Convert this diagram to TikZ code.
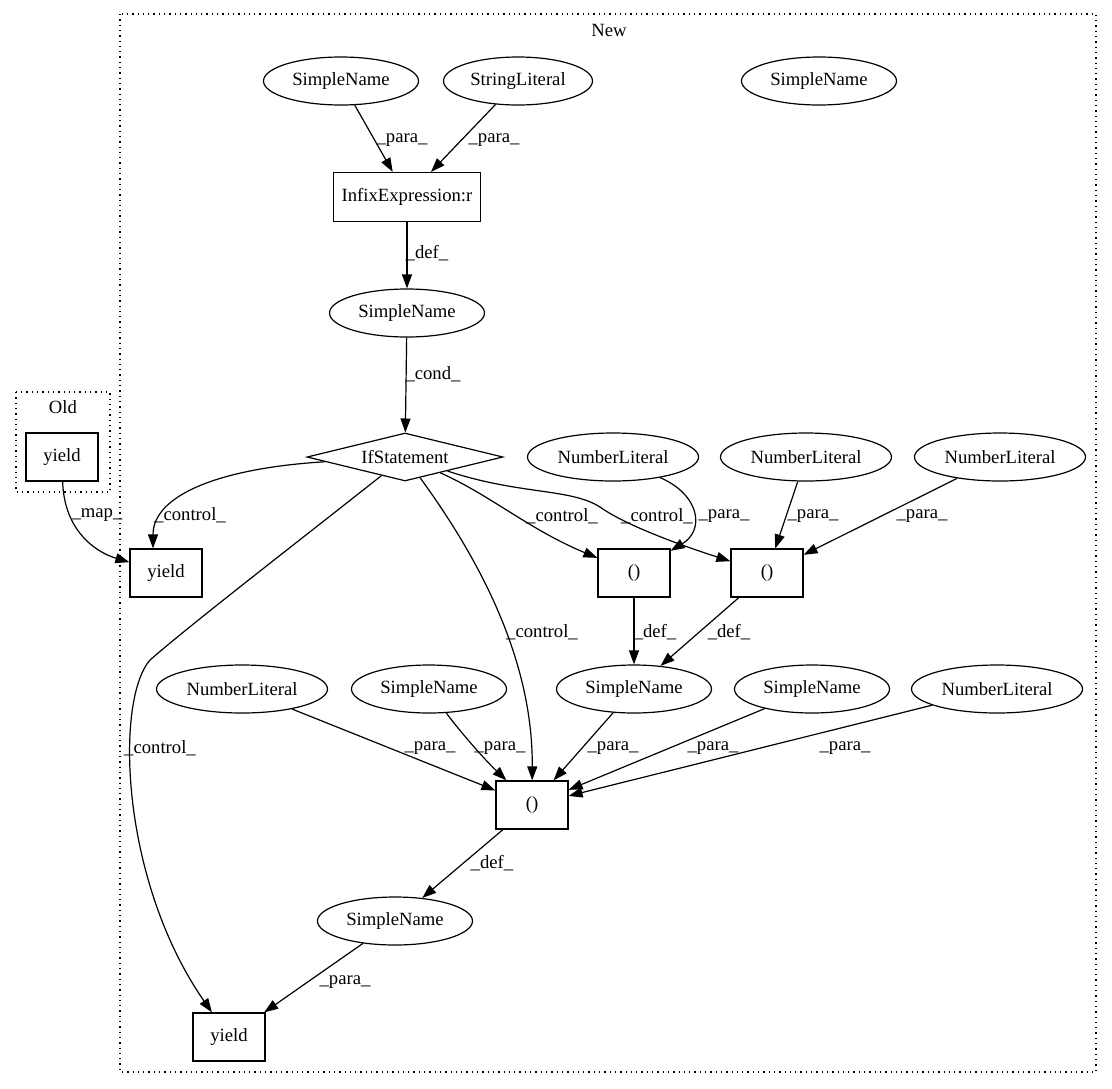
\documentclass[tikz,border=0pt]{standalone}
\usepackage{fontspec}
\setmainfont{Liberation Serif}
\usetikzlibrary{shapes.geometric,arrows.meta}
\begin{document}
\begin{tikzpicture}[x=1pt,y=-1pt,
  every node/.style={font=\fontsize{18.67}{22}\selectfont},
  ell/.style={draw, ellipse, line width=1.2pt, inner sep=0pt, minimum height=48pt},
  sbox/.style={draw, rectangle, line width=1.2pt, inner sep=0pt, minimum width=72pt, minimum height=48pt},
  dia/.style={draw, diamond, aspect=4, line width=1.2pt, inner sep=0pt, minimum width=196pt, minimum height=48pt},
  edge/.style={line width=1.2pt, -{Triangle[length=14pt,width=10pt]}},
  lab/.style={inner sep=0pt},
  cluster/.style={line width=1.3pt, dash pattern=on 1.3pt off 4pt}
]
\useasboundingbox (0,0) rectangle (1112,1088);
% clusters
\draw[cluster] (120,14) rectangle (1096,1072);
\node[lab] (newlab) at (609,30) {New};
\draw[cluster] (16,392) rectangle (110,492);
\node[lab] (oldlab) at (63,407) {Old};

% nodes
\node[ell, minimum width=155pt] (sn1) at (341,81) {SimpleName};
\node[ell, minimum width=149pt] (sl) at (518,81) {StringLiteral};
\node[ell, minimum width=155pt] (snr) at (819,81) {SimpleName};
\node[sbox, minimum width=147pt, minimum height=49pt] (infix) at (407,197) {InfixExpression:r};
\node[ell, minimum width=155pt] (sncond) at (407,313) {SimpleName};
\node[dia] (ifs) at (405,457) {IfStatement};
\node[sbox] (oldyield) at (62,457) {yield};
\node[sbox] (yield1) at (166,573) {yield};
\node[ell, minimum width=171pt] (nl1) at (613,457) {NumberLiteral};
\node[ell, minimum width=171pt] (nl2) at (806,457) {NumberLiteral};
\node[ell, minimum width=171pt] (nl3) at (1000,457) {NumberLiteral};
\node[sbox] (box1) at (634,573) {()};
\node[sbox] (box2) at (767,573) {()};
\node[ell, minimum width=171pt] (nlbl) at (242,689) {NumberLiteral};
\node[ell, minimum width=155pt] (snbl) at (429,689) {SimpleName};
\node[ell, minimum width=155pt] (snmid) at (634,689) {SimpleName};
\node[ell, minimum width=155pt] (snright) at (812,689) {SimpleName};
\node[ell, minimum width=171pt] (nlbr) at (997,689) {NumberLiteral};
\node[sbox] (boxb) at (532,805) {()};
\node[ell, minimum width=155pt] (snb) at (395,921) {SimpleName};
\node[sbox] (yieldb) at (229,1037) {yield};

% edges
\draw[edge] (sn1) -- (infix);
\draw[edge] (sl) -- (infix);
\draw[edge] (infix) -- (sncond);
\draw[edge] (sncond) -- (ifs);
\draw[edge] (ifs) .. controls (220,468) and (153,495) .. ([xshift=-13pt]yield1.north);
\draw[edge] (oldyield) .. controls (64,530) and (95,552) .. (yield1);
\draw[edge] (ifs) .. controls (490,495) and (530,530) .. (box1);
\draw[edge] (ifs) .. controls (520,495) and (570,488) .. (600,507) .. controls (625,525) and (680,545) .. (box2);
\draw[edge] (nl1) .. controls (700,495) and (705,530) .. (box1);
\draw[edge] (nl2) -- (box2);
\draw[edge] (nl3) -- (box2);
\draw[edge] (box1) -- (snmid);
\draw[edge] (box2) -- (snmid);
\draw[edge] (ifs) .. controls (480,560) and (533,660) .. (boxb);
\draw[edge] (ifs) .. controls (300,540) and (190,625) .. (150,660) .. controls (115,700) and (120,880) .. (yieldb);
\draw[edge] (nlbl) -- (boxb);
\draw[edge] (snbl) .. controls (455,725) and (480,755) .. (boxb);
\draw[edge] (snmid) -- (boxb);
\draw[edge] (snright) -- (boxb);
\draw[edge] (nlbr) -- (boxb);
\draw[edge] (boxb) -- (snb);
\draw[edge] (snb) -- (yieldb);

% labels
\node[lab] (l1) at (402,140) {\_para\_};
\node[lab] (l2) at (494,140) {\_para\_};
\node[lab] (l3) at (427,253) {\_def\_};
\node[lab] (l4) at (433,374) {\_cond\_};
\node[lab] (l5) at (190,515) {\_control\_};
\node[lab] (l6) at (97,515) {\_map\_};
\node[lab] (l7) at (562,516) {\_control\_};
\node[lab] (l8) at (657,516) {\_control\_};
\node[lab] (l9) at (724,516) {\_para\_};
\node[lab] (l10) at (813,516) {\_para\_};
\node[lab] (l11) at (922,516) {\_para\_};
\node[lab] (l12) at (655,632) {\_def\_};
\node[lab] (l13) at (729,632) {\_def\_};
\node[lab] (l14) at (542,632) {\_control\_};
\node[lab] (l15) at (160,748) {\_control\_};
\node[lab] (l16) at (430,748) {\_para\_};
\node[lab] (l17) at (500,748) {\_para\_};
\node[lab] (l18) at (613,748) {\_para\_};
\node[lab] (l19) at (713,748) {\_para\_};
\node[lab] (l20) at (845,748) {\_para\_};
\node[lab] (l21) at (492,863) {\_def\_};
\node[lab] (l22) at (345,982) {\_para\_};
\end{tikzpicture}
\end{document}
